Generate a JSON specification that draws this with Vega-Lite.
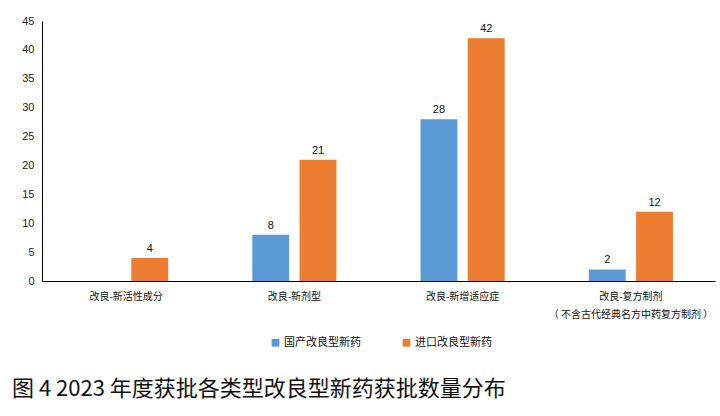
{
  "$schema": "https://vega.github.io/schema/vega-lite/v6.json",
  "autosize": "none",
  "width": 673,
  "height": 260,
  "padding": {"left": 42, "top": 21, "right": 5, "bottom": 135},
  "background": "white",
  "config": {
    "font": "Noto Sans CJK SC",
    "view": {"stroke": null}
  },
  "title": {
    "text": "图 4 2023 年度获批各类型改良型新药获批数量分布",
    "orient": "bottom",
    "anchor": "start",
    "frame": "group",
    "dx": -30,
    "offset": 31,
    "fontSize": 22,
    "fontWeight": "normal",
    "font": "Noto Sans CJK SC",
    "color": "#111111"
  },
  "data": {
    "values": [
      {"category": "改良-新活性成分", "series": "国产改良型新药", "value": 0},
      {"category": "改良-新活性成分", "series": "进口改良型新药", "value": 4},
      {"category": "改良-新剂型", "series": "国产改良型新药", "value": 8},
      {"category": "改良-新剂型", "series": "进口改良型新药", "value": 21},
      {"category": "改良-新增适应症", "series": "国产改良型新药", "value": 28},
      {"category": "改良-新增适应症", "series": "进口改良型新药", "value": 42},
      {"category": "改良-复方制剂\n（ 不含古代经典名方中药复方制剂 ）", "series": "国产改良型新药", "value": 2},
      {"category": "改良-复方制剂\n（ 不含古代经典名方中药复方制剂 ）", "series": "进口改良型新药", "value": 12}
    ]
  },
  "encoding": {
    "x": {
      "field": "category",
      "type": "nominal",
      "sort": null,
      "scale": {"paddingInner": 0.5, "paddingOuter": 0.25},
      "axis": {
        "title": null,
        "labelAngle": 0,
        "labelExpr": "split(datum.label, '\\n')",
        "labelFontSize": 10,
        "labelColor": "#111111",
        "labelPadding": 10,
        "labelLineHeight": 18,
        "domainColor": "#000000",
        "domainWidth": 1,
        "ticks": false,
        "labelLimit": 300
      }
    },
    "xOffset": {
      "field": "series",
      "type": "nominal",
      "sort": ["国产改良型新药", "进口改良型新药"],
      "scale": {"paddingInner": 0.22, "paddingOuter": 0}
    },
    "y": {
      "field": "value",
      "type": "quantitative",
      "scale": {"domain": [0, 45]},
      "axis": {
        "title": null,
        "values": [0, 5, 10, 15, 20, 25, 30, 35, 40, 45],
        "grid": false,
        "ticks": false,
        "labelPadding": 8,
        "labelFontSize": 11,
        "labelFont": "Liberation Sans",
        "labelColor": "#222222",
        "domainColor": "#000000",
        "domainWidth": 1
      }
    }
  },
  "layer": [
    {
      "mark": {"type": "bar"},
      "encoding": {
        "color": {
          "field": "series",
          "type": "nominal",
          "sort": ["国产改良型新药", "进口改良型新药"],
          "scale": {"range": ["#5B9BD5", "#ED7D31"]},
          "legend": {
            "title": null,
            "orient": "none",
            "direction": "horizontal",
            "legendX": 228,
            "legendY": 316,
            "symbolType": "square",
            "symbolSize": 60,
            "symbolStrokeWidth": 0,
            "labelFontSize": 11,
            "labelColor": "#111111",
            "columnPadding": 40,
            "labelOffset": 3
          }
        }
      }
    },
    {
      "transform": [{"filter": "datum.value > 0"}],
      "mark": {"type": "text", "dy": -9, "fontSize": 11, "font": "Liberation Sans", "color": "#111111"},
      "encoding": {
        "text": {"field": "value", "type": "quantitative"}
      }
    }
  ]
}
